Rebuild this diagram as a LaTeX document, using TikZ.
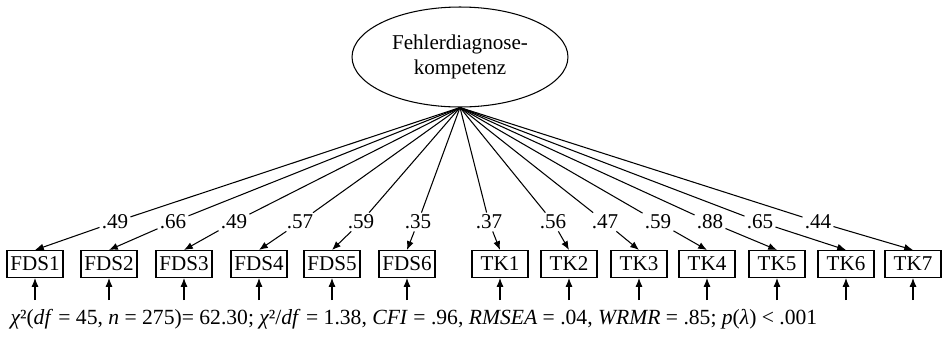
\documentclass[tikz,border=0pt]{standalone}
\usepackage{fontspec}
\setmainfont{Liberation Serif}
\usetikzlibrary{arrows.meta,shapes.geometric,positioning}

\begin{document}
\begin{tikzpicture}[x=0.02cm, y=-0.02cm, line width=0.6pt,
  font=\fontsize{12}{14}\selectfont,
  ind/.style={draw, inner xsep=1.5pt, inner ysep=2pt, minimum width=1.12cm, minimum height=0.54cm},
  ld/.style={inner sep=1pt},
  arr/.style={-{Latex[length=5pt,width=4pt]}}]
  \useasboundingbox (0,0) rectangle (944,339);

  % latent factor
  \node[draw, ellipse, minimum width=4.32cm, minimum height=2cm, align=center]
    (fk) at (460,57) {Fehlerdiagnose-\\kompetenz};

  % indicators
  \node[ind] (fds1) at (35,264) {FDS1};
  \node[ind] (fds2) at (109,264) {FDS2};
  \node[ind] (fds3) at (184,264) {FDS3};
  \node[ind] (fds4) at (259,264) {FDS4};
  \node[ind] (fds5) at (332,264) {FDS5};
  \node[ind] (fds6) at (407,264) {FDS6};
  \node[ind] (tk1) at (500,264) {TK1};
  \node[ind] (tk2) at (569,264) {TK2};
  \node[ind] (tk3) at (639,264) {TK3};
  \node[ind] (tk4) at (707,264) {TK4};
  \node[ind] (tk5) at (777,264) {TK5};
  \node[ind] (tk6) at (846,264) {TK6};
  \node[ind] (tk7) at (913,264) {TK7};

  % loadings
  \node[ld] (l1) at (115,222) {.49};
  \node[ld] (l2) at (173,222) {.66};
  \node[ld] (l3) at (234,222) {.49};
  \node[ld] (l4) at (300,222) {.57};
  \node[ld] (l5) at (361,222) {.59};
  \node[ld] (l6) at (418,222) {.35};
  \node[ld] (l7) at (489,222) {.37};
  \node[ld] (l8) at (553,222) {.56};
  \node[ld] (l9) at (605,222) {.47};
  \node[ld] (l10) at (658,222) {.59};
  \node[ld] (l11) at (710,222) {.88};
  \node[ld] (l12) at (760,222) {.65};
  \node[ld] (l13) at (818,222) {.44};

  \draw[arr] (fk.south) -- (l1) -- (fds1.north);
  \draw[arr] (fk.south) -- (l2) -- (fds2.north);
  \draw[arr] (fk.south) -- (l3) -- (fds3.north);
  \draw[arr] (fk.south) -- (l4) -- (fds4.north);
  \draw[arr] (fk.south) -- (l5) -- (fds5.north);
  \draw[arr] (fk.south) -- (l6) -- (fds6.north);
  \draw[arr] (fk.south) -- (l7) -- (tk1.north);
  \draw[arr] (fk.south) -- (l8) -- (tk2.north);
  \draw[arr] (fk.south) -- (l9) -- (tk3.north);
  \draw[arr] (fk.south) -- (l10) -- (tk4.north);
  \draw[arr] (fk.south) -- (l11) -- (tk5.north);
  \draw[arr] (fk.south) -- (l12) -- (tk6.north);
  \draw[arr] (fk.south) -- (l13) -- (tk7.north);

  % residuals
  \foreach \i in {fds1,fds2,fds3,fds4,fds5,fds6,tk1,tk2,tk3,tk4,tk5,tk6,tk7} {
    \coordinate (e-\i) at ([yshift=-0.44cm]\i.south);
    \draw[arr] (e-\i) -- (\i.south);
  }

  % fit indices
  \node[anchor=west, inner sep=0pt, font=\fontsize{12.3}{14}\selectfont] (fit) at (10,319)
    {{\itshape χ}²(\textit{df} = 45, \textit{n} = 275)= 62.30; {\itshape χ}²/\textit{df} = 1.38, \textit{CFI} = .96, \textit{RMSEA} = .04, \textit{WRMR} = .85; \textit{p}(\textit{λ}) < .001};
\end{tikzpicture}
\end{document}
